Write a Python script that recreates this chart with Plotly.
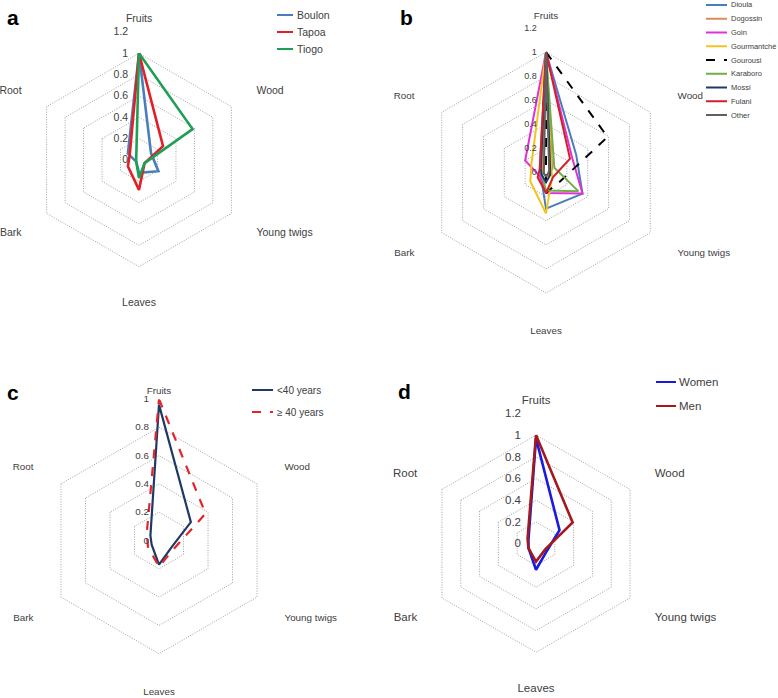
import plotly.graph_objects as go

W, H = 778, 698
FONT = "Liberation Sans, Arial, sans-serif"
TXT = "#404040"

categories = ["Fruits", "Wood", "Young twigs", "Leaves", "Bark", "Root"]

# ---- panel a: villages ----
a_names = ["Boulon", "Tapoa", "Tiogo"]
a_boulon = [1.0, 0.13, 0.21, 0.12, 0.03, 0.12]
a_tapoa = [1.0, 0.26, 0.06, 0.28, 0.12, 0.10]
a_tiogo = [1.0, 0.58, 0.06, 0.17, 0.03, 0.03]

# ---- panel b: ethnic groups ----
b_names = ["Dioula", "Dogossin", "Goin", "Gourmantché", "Gourousi",
           "Karaboro", "Mossi", "Fulani", "Other"]
b_dioula = [1.0, 0.29, 0.35, 0.30, 0.05, 0.06]
b_dogossin = [1.0, 0.06, 0.03, 0.04, 0.02, 0.03]
b_goin = [1.0, 0.25, 0.35, 0.17, 0.06, 0.20]
b_gourmantche = [1.0, 0.05, 0.06, 0.34, 0.15, 0.14]
b_gourousi = [1.0, 0.59, 0.14, 0.17, 0.0, 0.0]
b_karaboro = [1.0, 0.08, 0.31, 0.15, 0.04, 0.05]
b_mossi = [1.0, 0.04, 0.04, 0.08, 0.04, 0.05]
b_fulani = [1.0, 0.23, 0.07, 0.17, 0.08, 0.06]
b_other = [1.0, 0.03, 0.02, 0.03, 0.02, 0.02]

# ---- panel c: age ----
c_names = ["<40 years", "\u2265 40 years"]
c_under40 = [0.96, 0.26, 0.10, 0.17, 0.06, 0.07]
c_over40 = [1.0, 0.38, 0.12, 0.185, 0.09, 0.10]

# ---- panel d: gender ----
d_names = ["Women", "Men"]
d_women = [0.97, 0.25, 0.12, 0.24, 0.08, 0.08]
d_men = [1.0, 0.39, 0.10, 0.165, 0.08, 0.09]

# radial tick labels
ticks_12 = [0, 0.2, 0.4, 0.6, 0.8, 1.0, 1.2]
ticks_12_text = ["0", "0.2", "0.4", "0.6", "0.8", "1", "1.2"]
ticks_10 = [0, 0.2, 0.4, 0.6, 0.8, 1.0]
ticks_10_text = ["0", "0.2", "0.4", "0.6", "0.8", "1"]

NB = "\u00a0"

panels = [
    dict(key="polar", letter="a",
         series=[a_boulon, a_tapoa, a_tiogo], names=a_names,
         colors=["#4a7ebb", "#e21f26", "#1f9e55"], dashes=["solid"] * 3,
         width=2.6, rmax=1.2, tv=ticks_12, tt=ticks_12_text, pad=3, tl=5,
         box=(11, 267, 32, 288), tickfs=10.5, angfs=10.5,
         leg=dict(x0=277, x1=293, tx=295, y0=15, dy=17, fs=10.5),
         lab=(13, 18)),
    dict(key="polar2", letter="b",
         series=[b_dioula, b_dogossin, b_goin, b_gourmantche, b_gourousi,
                 b_karaboro, b_mossi, b_fulani, b_other], names=b_names,
         colors=["#4a7ebb", "#dd8a55", "#e030d8", "#f2c51e", "#000000",
                 "#72ad4a", "#1f3864", "#d22026", "#606060"],
         dashes=["solid"] * 4 + ["dash"] + ["solid"] * 4,
         width=2.0, rmax=1.2, tv=ticks_12, tt=ticks_12_text, pad=3, tl=5,
         box=(401.5, 690.5, 28, 317), tickfs=9, angfs=9.8,
         leg=dict(x0=706, x1=727, tx=729, y0=5, dy=13.75, fs=7.5),
         lab=(406, 18)),
    dict(key="polar3", letter="c",
         series=[c_under40, c_over40], names=c_names,
         colors=["#1f3864", "#e3242b"], dashes=["solid", "dash"],
         width=2.2, rmax=1.0, tv=ticks_10, tt=ticks_10_text, pad=3, tl=1,
         box=(17.5, 300.5, 399, 682), tickfs=9.8, angfs=9.8,
         leg=dict(x0=252, x1=273, tx=275, y0=390, dy=22, fs=10),
         lab=(13, 392)),
    dict(key="polar4", letter="d",
         series=[d_women, d_men], names=d_names,
         colors=["#1a1ae0", "#a3191c"], dashes=["solid", "solid"],
         width=2.6, rmax=1.2, tv=ticks_12, tt=ticks_12_text, pad=4, tl=4,
         box=(405.7, 666.3, 413.4, 674), tickfs=11.5, angfs=11.5,
         leg=dict(x0=656, x1=676, tx=677, y0=382, dy=24, fs=11.5),
         lab=(404, 391)),
]

fig = go.Figure()
shapes = []
annotations = []
layout = dict(width=W, height=H, margin=dict(l=0, r=0, t=0, b=0),
              paper_bgcolor="white", plot_bgcolor="white", showlegend=False,
              font=dict(family=FONT, color=TXT))

for p in panels:
    for vals, name, col, dash in zip(p["series"], p["names"], p["colors"], p["dashes"]):
        fig.add_trace(go.Scatterpolar(
            r=vals + vals[:1], theta=categories + categories[:1],
            mode="lines", name=name, subplot=p["key"],
            line=dict(color=col, width=p["width"], dash=dash),
            showlegend=False, hoverinfo="skip"))
    x0, x1, y0, y1 = p["box"]
    layout[p["key"]] = dict(
        domain=dict(x=[x0 / W, x1 / W], y=[1 - y1 / H, 1 - y0 / H]),
        bgcolor="rgba(0,0,0,0)",
        gridshape="linear",
        angularaxis=dict(direction="clockwise", rotation=90, showgrid=False,
                         showline=False, ticks="outside", ticklen=p["tl"],
                         tickcolor="rgba(0,0,0,0)",
                         categoryorder="array", categoryarray=categories,
                         tickfont=dict(size=p["angfs"], color=TXT, family=FONT)),
        radialaxis=dict(range=[0, p["rmax"]], tickvals=p["tv"],
                        ticktext=[t + NB * p["pad"] for t in p["tt"]],
                        angle=90, side="counterclockwise", tickangle=90,
                        showline=False, ticks="", gridcolor="#a0a0a0",
                        griddash="1px,1.5px", gridwidth=1,
                        tickfont=dict(size=p["tickfs"], color=TXT, family=FONT)),
    )
    lg = p["leg"]
    for i, (name, col, dash) in enumerate(zip(p["names"], p["colors"], p["dashes"])):
        yy = lg["y0"] + i * lg["dy"]
        shapes.append(dict(type="line", xref="paper", yref="paper",
                           x0=lg["x0"] / W, x1=lg["x1"] / W,
                           y0=1 - yy / H, y1=1 - yy / H,
                           line=dict(color=col, width=2, dash=dash)))
        annotations.append(dict(xref="paper", yref="paper", x=lg["tx"] / W,
                                y=1 - yy / H, xanchor="left", yanchor="middle",
                                text=name, showarrow=False,
                                font=dict(size=lg["fs"], color=TXT, family=FONT)))
    lx, ly = p["lab"]
    annotations.append(dict(xref="paper", yref="paper", x=lx / W, y=1 - ly / H,
                            xanchor="center", yanchor="middle",
                            text="<b>%s</b>" % p["letter"], showarrow=False,
                            font=dict(size=21, color="#000000",
                                      family="Liberation Sans, Arial, sans-serif")))

layout["shapes"] = shapes
layout["annotations"] = annotations
fig.update_layout(**layout)
fig.write_html("out.html", config={"displayModeBar": False},
               post_script="document.body.style.margin='0';document.body.style.padding='0';")
